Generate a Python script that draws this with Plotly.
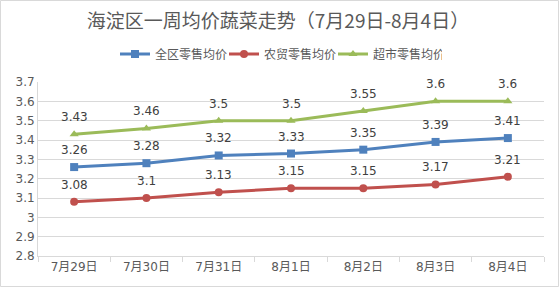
import plotly.graph_objects as go

categories = ["7月29日", "7月30日", "7月31日", "8月1日", "8月2日", "8月3日", "8月4日"]
all_avg = [3.26, 3.28, 3.32, 3.33, 3.35, 3.39, 3.41]
farm_avg = [3.08, 3.10, 3.13, 3.15, 3.15, 3.17, 3.21]
super_avg = [3.43, 3.46, 3.50, 3.50, 3.55, 3.60, 3.60]
series_names = ["全区零售均价", "农贸零售均价", "超市零售均价"]
title_text = "海淀区一周均价蔬菜走势（7月29日-8月4日）"

colors = ["#4F81BD", "#C0504D", "#9BBB59"]
symbols = ["square", "circle", "triangle-up"]
font_num = "DejaVu Sans, Noto Sans CJK SC"
font_cjk = "Noto Sans CJK SC"

fig = go.Figure()
annotations = []
for vals, name, c, s in zip([all_avg, farm_avg, super_avg], series_names, colors, symbols):
    fig.add_trace(go.Scatter(
        x=categories, y=vals, name=name, mode="lines+markers",
        line=dict(color=c, width=3), marker=dict(symbol=s, size=8, color=c),
    ))
    for xc, v in zip(categories, vals):
        annotations.append(dict(
            x=xc, y=v, text=f"{v:g}", showarrow=False, yshift=17,
            font=dict(family=font_num, size=12, color="#404040"),
        ))

L, R, T, B = 38, 16, 82, 32
W, H = 560, 288
pw, ph = W - L - R, H - T - B

fig.update_layout(
    width=W, height=H,
    margin=dict(l=L, r=R, t=T, b=B),
    paper_bgcolor="white", plot_bgcolor="white",
    title=dict(text=title_text, x=278 / W, xref="container", xanchor="center",
               y=1 - 21.5 / H, yanchor="middle",
               font=dict(family=font_cjk, size=19, color="#595959")),
    legend=dict(orientation="h", x=(115 - L) / pw, xanchor="left", y=1 + (T - 54) / ph, yanchor="middle",
                font=dict(family=font_cjk, size=12, color="#595959"),
                itemwidth=30, entrywidth=64, bgcolor="rgba(0,0,0,0)"),
    showlegend=True,
    annotations=annotations,
    shapes=[dict(type="rect", xref="paper", yref="paper",
                 x0=-(L - 0.5) / pw, x1=1 + (R - 1.5) / pw,
                 y0=-(B - 1.5) / ph, y1=1 + (T - 0.5) / ph,
                 line=dict(color="#d9d9d9", width=1), layer="below")],
)
fig.update_xaxes(
    type="category", range=[-0.5, 6.5], tickson="boundaries", ticks="outside", ticklen=5,
    tickcolor="#d9d9d9", showline=True, linecolor="#d9d9d9", linewidth=1,
    showgrid=False, tickfont=dict(family=font_num, size=12, color="#595959"),
)
fig.update_yaxes(
    range=[2.8, 3.7], dtick=0.1, tick0=2.8, showgrid=True, gridcolor="#d9d9d9",
    showline=True, linecolor="#d9d9d9", zeroline=False, ticks="",
    tickfont=dict(family=font_num, size=12, color="#595959"),
)
fig.write_html("out.html")
